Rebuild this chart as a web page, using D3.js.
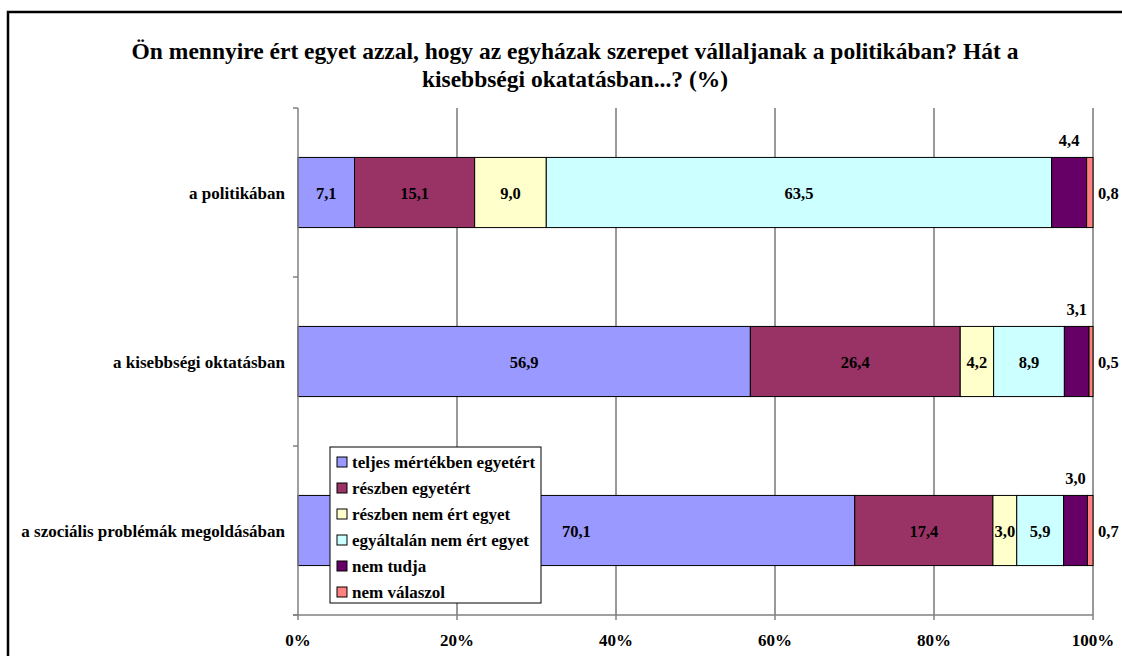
<!DOCTYPE html>
<html>
<head>
<meta charset="utf-8">
<script src="https://cdn.jsdelivr.net/npm/d3@7"></script>
<style>
  body { margin: 0; background: #fff; }
</style>
</head>
<body>
<div id="chart"></div>
<script>
// data
const categories = ["a politikában", "a kisebbségi oktatásban", "a szociális problémák megoldásában"];
const seriesNames = ["teljes mértékben egyetért", "részben egyetért", "részben nem ért egyet",
  "egyáltalán nem ért egyet", "nem tudja", "nem válaszol"];
const teljes = [7.1, 56.9, 70.1];
const reszbenEgyet = [15.1, 26.4, 17.4];
const reszbenNem = [9.0, 4.2, 3.0];
const egyaltalan = [63.5, 8.9, 5.9];
const nemTudja = [4.4, 3.1, 3.0];
const nemValaszol = [0.8, 0.5, 0.7];
const tickLabels = ["0%", "20%", "40%", "60%", "80%", "100%"];
const colors = ["#9999FF", "#993366", "#FFFFCC", "#CCFFFF", "#660066", "#FF8080"];

const W = 1122, H = 656;
const margin = {top: 108, left: 298, right: 29, bottom: 41};
const FONT = "'Liberation Serif', 'Times New Roman', 'DejaVu Serif', serif";

const seriesVals = [teljes, reszbenEgyet, reszbenNem, egyaltalan, nemTudja, nemValaszol];
const rows = categories.map((c, i) => {
  const r = {cat: c};
  seriesNames.forEach((s, j) => r[s] = seriesVals[j][i]);
  return r;
});

const stack = d3.stack().keys(seriesNames).offset(d3.stackOffsetExpand);
const stacked = stack(rows);

const svg = d3.select("#chart").append("svg")
  .attr("width", W).attr("height", H)
  .attr("font-family", FONT).attr("font-weight", "bold");

// outer frame
svg.append("rect").attr("x", 8).attr("y", 12).attr("width", 1200).attr("height", 700)
  .attr("fill", "none").attr("stroke", "#000").attr("stroke-width", 2.5);

const x = d3.scaleLinear().domain([0, 1]).range([margin.left, W - margin.right]);
const y = d3.scaleBand().domain(categories).range([margin.top, H - margin.bottom])
  .paddingInner(0.585).paddingOuter(0.2925);
const yOuter = d3.scaleBand().domain(categories).range([margin.top, H - margin.bottom]);

// title
const title = svg.append("text").attr("text-anchor", "middle").attr("font-size", 23.5);
title.append("tspan").attr("x", 575).attr("y", 59)
  .text("Ön mennyire ért egyet azzal, hogy az egyházak szerepet vállaljanak a politikában? Hát a");
title.append("tspan").attr("x", 575).attr("y", 87).text("kisebbségi okatatásban...? (%)");

// gridlines
const ticks = d3.range(0, 1.0001, 0.2);
svg.append("g").selectAll("line").data(ticks.slice(1)).join("line")
  .attr("x1", d => x(d)).attr("x2", d => x(d))
  .attr("y1", margin.top).attr("y2", H - margin.bottom)
  .attr("stroke", "#000").attr("stroke-width", 0.8);

// bars
const layer = svg.append("g").selectAll("g").data(stacked).join("g")
  .attr("fill", (d, i) => colors[i]);
layer.selectAll("rect").data(d => d).join("rect")
  .attr("x", d => x(d[0])).attr("width", d => x(d[1]) - x(d[0]))
  .attr("y", d => y(d.data.cat)).attr("height", y.bandwidth())
  .attr("stroke", "#000").attr("stroke-width", 1);

// value labels
const fmt = v => d3.format(".1f")(v).replace(".", ",");
stacked.forEach((s, j) => {
  s.forEach((d, i) => {
    const v = seriesVals[j][i];
    const cx = (x(d[0]) + x(d[1])) / 2;
    const cy = y(d.data.cat) + y.bandwidth() / 2;
    let tx = cx, ty = cy + 6, anchor = "middle";
    if (j === 4) { ty = y(d.data.cat) - 11; }
    if (j === 5) { tx = x(1) + 5; anchor = "start"; }
    svg.append("text").attr("x", tx).attr("y", ty).attr("text-anchor", anchor)
      .attr("font-size", 16.5).text(fmt(v));
  });
});

// axes
const yAxis = svg.append("g");
yAxis.append("line").attr("x1", margin.left).attr("x2", margin.left)
  .attr("y1", margin.top).attr("y2", H - margin.bottom).attr("stroke", "#808080").attr("stroke-width", 1.5);
yAxis.selectAll("line.tk").data(categories.concat(["end"])).join("line").attr("class", "tk")
  .attr("x1", margin.left - 5).attr("x2", margin.left)
  .attr("y1", d => d === "end" ? H - margin.bottom : yOuter(d))
  .attr("y2", d => d === "end" ? H - margin.bottom : yOuter(d))
  .attr("stroke", "#808080").attr("stroke-width", 1.5);
yAxis.selectAll("text").data(categories).join("text")
  .attr("x", margin.left - 13).attr("y", d => y(d) + y.bandwidth() / 2 + 6)
  .attr("text-anchor", "end").attr("font-size", 17).text(d => d);

const xAxis = svg.append("g");
xAxis.append("line").attr("x1", margin.left - 5).attr("x2", x(1))
  .attr("y1", H - margin.bottom).attr("y2", H - margin.bottom)
  .attr("stroke", "#808080").attr("stroke-width", 1.5);
xAxis.selectAll("line.tk").data(ticks).join("line").attr("class", "tk")
  .attr("x1", d => x(d)).attr("x2", d => x(d))
  .attr("y1", H - margin.bottom).attr("y2", H - margin.bottom + 5)
  .attr("stroke", "#808080").attr("stroke-width", 1.5);
xAxis.selectAll("text").data(ticks).join("text")
  .attr("x", d => x(d)).attr("y", H - 10).attr("text-anchor", "middle")
  .attr("font-size", 17).text((d, i) => tickLabels[i]);

// legend
const lg = svg.append("g").attr("transform", "translate(330,447)");
lg.append("rect").attr("width", 211).attr("height", 156)
  .attr("fill", "#fff").attr("stroke", "#000").attr("stroke-width", 1);
const item = lg.selectAll("g").data(seriesNames).join("g")
  .attr("transform", (d, i) => `translate(7,${15 + i * 26})`);
item.append("rect").attr("x", 0).attr("y", -5).attr("width", 10).attr("height", 10)
  .attr("fill", (d, i) => colors[i]).attr("stroke", "#000").attr("stroke-width", 1);
item.append("text").attr("x", 15).attr("y", 5.5).attr("font-size", 17).text(d => d);
</script>
</body>
</html>
